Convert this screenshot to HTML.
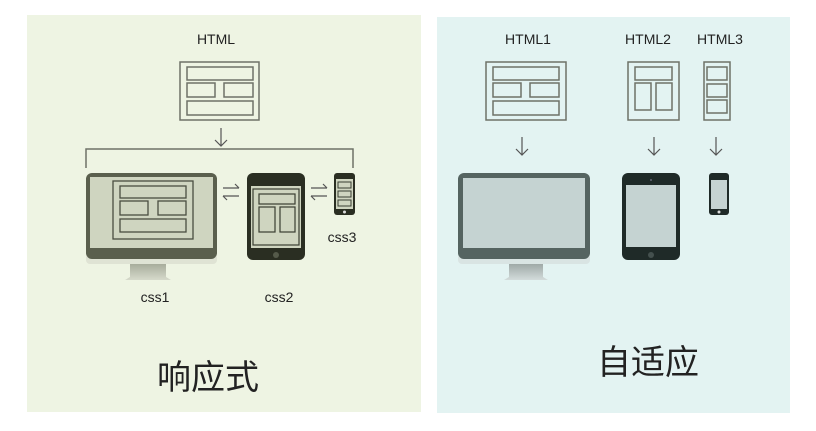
<!DOCTYPE html>
<html><head><meta charset="utf-8"><style>
html,body{margin:0;padding:0;background:#fff;width:816px;height:431px;overflow:hidden}
svg{display:block}
text{font-family:"Liberation Sans","Noto Sans CJK SC",sans-serif;fill:#222}
</style></head><body>
<svg width="816" height="431" viewBox="0 0 816 431" xmlns="http://www.w3.org/2000/svg">
<defs>
<linearGradient id="st" x1="0" y1="0" x2="0" y2="1"><stop offset="0" stop-color="#a8ad9c"/><stop offset="1" stop-color="#d6dacb"/></linearGradient>
<linearGradient id="st2" x1="0" y1="0" x2="0" y2="1"><stop offset="0" stop-color="#9fa9a7"/><stop offset="1" stop-color="#d3dcdb"/></linearGradient>
</defs>
<rect x="27" y="15" width="394" height="397" fill="#eef4e3"/>
<rect x="437" y="17" width="353" height="396" fill="#e3f3f2"/>

<g fill="none" stroke="#6e7268" stroke-width="1.5">
<!-- left HTML box -->
<rect x="180" y="62" width="79" height="58"/>
<rect x="187" y="67" width="66" height="13"/>
<rect x="187" y="83" width="28" height="14"/>
<rect x="224" y="83" width="29" height="14"/>
<rect x="187" y="101" width="66" height="14"/>
<!-- right HTML1 -->
<rect x="486" y="62" width="80" height="58"/>
<rect x="493" y="67" width="66" height="13"/>
<rect x="493" y="83" width="28" height="14"/>
<rect x="530" y="83" width="29" height="14"/>
<rect x="493" y="101" width="66" height="14"/>
<!-- HTML2 -->
<rect x="628" y="62" width="51" height="58"/>
<rect x="635" y="67" width="37" height="13"/>
<rect x="635" y="83" width="16" height="27"/>
<rect x="656" y="83" width="16" height="27"/>
<!-- HTML3 -->
<rect x="704" y="62" width="26" height="58"/>
<rect x="707" y="67" width="20" height="13"/>
<rect x="707" y="84" width="20" height="13"/>
<rect x="707" y="100" width="20" height="13"/>
<!-- bracket -->
<path d="M86 168 V149 H353 V168"/>
</g>
<g fill="none" stroke="#555" stroke-width="1.2">
<path d="M221 128 V146 M215 140 L221 146 L227 140"/>
<path d="M522 137 V155 M516 149 L522 155 L528 149"/>
<path d="M654 137 V155 M648 149 L654 155 L660 149"/>
<path d="M716 137 V155 M710 149 L716 155 L722 149"/>
<!-- swap arrows -->
<path d="M223 188 H239 M235 184 L239 188 M223 196 H239 M227 200 L223 196"/>
<path d="M311 188 H327 M323 184 L327 188 M311 196 H327 M315 200 L311 196"/>
</g>

<!-- left monitor -->
<rect x="86" y="253" width="131" height="11" rx="4" fill="#dfe3d4"/>
<rect x="86" y="173" width="131" height="86" rx="6" fill="#5a5f4d"/>
<rect x="90" y="177" width="123" height="71" fill="#cfd5c0"/>
<path d="M130 264 H166 V277 L171 280 H125 L130 277 Z" fill="url(#st)"/>
<g fill="none" stroke="#4a4e40" stroke-width="1.3">
<rect x="113" y="181" width="80" height="58"/>
<rect x="120" y="186" width="66" height="12"/>
<rect x="120" y="201" width="28" height="14"/>
<rect x="158" y="201" width="28" height="14"/>
<rect x="120" y="219" width="66" height="13"/>
</g>
<!-- left tablet -->
<rect x="247" y="173" width="58" height="87" rx="6" fill="#2a2e22"/>
<rect x="251" y="186" width="50" height="62" fill="#cfd5c0"/>
<circle cx="276" cy="255" r="3" fill="#555a4a"/>
<g fill="none" stroke="#3a3e32" stroke-width="1.2">
<rect x="253" y="189" width="46" height="56"/>
<rect x="259" y="194" width="36" height="10"/>
<rect x="259" y="207" width="16" height="25"/>
<rect x="280" y="207" width="15" height="25"/>
</g>
<!-- left phone -->
<rect x="334" y="173" width="21" height="42" rx="3" fill="#2a2e22"/>
<rect x="336" y="179" width="17" height="30" fill="#cfd5c0"/>
<circle cx="344.5" cy="212" r="1.5" fill="#ddd"/>
<g fill="none" stroke="#3a3e32" stroke-width="1">
<rect x="338" y="182" width="13" height="6"/>
<rect x="338" y="191" width="13" height="6"/>
<rect x="338" y="200" width="13" height="6"/>
</g>

<!-- right monitor -->
<rect x="458" y="253" width="132" height="11" rx="4" fill="#d9e4e3"/>
<rect x="458" y="173" width="132" height="86" rx="6" fill="#556461"/>
<rect x="463" y="178" width="122" height="70" fill="#c5d3d2"/>
<path d="M509 264 H543 V277 L548 280 H504 L509 277 Z" fill="url(#st2)"/>
<!-- right tablet -->
<rect x="622" y="173" width="58" height="87" rx="6" fill="#1f2a28"/>
<rect x="626" y="185" width="50" height="62" fill="#c5d3d2"/>
<circle cx="651" cy="255" r="3" fill="#44504e"/>
<circle cx="651" cy="180" r="1" fill="#667"/>
<!-- right phone -->
<rect x="709" y="173" width="20" height="42" rx="3" fill="#1f2a28"/>
<rect x="711" y="180" width="16" height="29" fill="#c5d3d2"/>
<circle cx="719" cy="212" r="1.5" fill="#ddd"/>

<g font-size="14" text-anchor="middle">
<text x="216" y="44">HTML</text>
<text x="528" y="44">HTML1</text>
<text x="648" y="44">HTML2</text>
<text x="720" y="44">HTML3</text>
<text x="342" y="242">css3</text>
<text x="155" y="302">css1</text>
<text x="279" y="302">css2</text>
</g>
<text x="208" y="389" font-size="34" text-anchor="middle">响应式</text>
<text x="648" y="374" font-size="34" text-anchor="middle">自适应</text>
</svg>
</body></html>
